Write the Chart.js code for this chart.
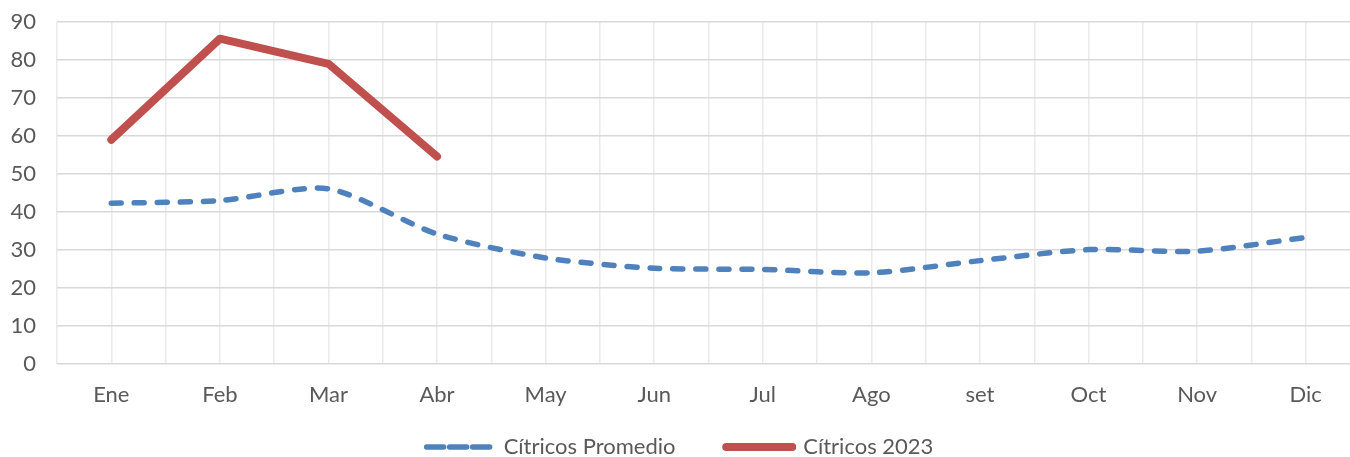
<!DOCTYPE html>
<html>
<head>
<meta charset="utf-8">
<script src="https://cdn.jsdelivr.net/npm/chart.js@4/dist/chart.umd.min.js"></script>
<style>
  html,body{margin:0;padding:0;background:#fff;overflow:hidden;}
  canvas{display:block;}
</style>
</head>
<body>
<canvas id="chart" width="1360" height="457"></canvas>
<script>
const months=['Ene','Feb','Mar','Abr','May','Jun','Jul','Ago','set','Oct','Nov','Dic'];
const promedio=[42.3,43.0,46.1,34.2,27.9,25.2,24.9,24.0,27.2,30.1,29.7,33.3];
const citricos2023=[59.0,85.6,79.0,54.6];
const yTicks=[0,10,20,30,40,50,60,70,80,90];

const C={blue:'#4F81BD',red:'#C0504D',text:'#595959',gridH:'#D9D9D9',gridV:'#EAEAEA'};
const FONT='Lato, "Noto Sans", sans-serif';

new Chart(document.getElementById('chart'),{
  type:'line',
  data:{datasets:[
    {label:'Cítricos Promedio',data:promedio.map((v,i)=>({x:i,y:v})),
     borderColor:C.blue,backgroundColor:C.blue,borderWidth:5.5,borderDash:[10,13],
     borderCapStyle:'round',tension:0.25,pointRadius:0,fill:false},
    {label:'Cítricos 2023',data:citricos2023.map((v,i)=>({x:i,y:v})),
     borderColor:C.red,backgroundColor:C.red,borderWidth:8,borderCapStyle:'round',
     borderJoinStyle:'round',tension:0,pointRadius:0,fill:false}
  ]},
  options:{
    responsive:false,animation:false,
    layout:{padding:{top:22,left:0,right:0,bottom:-11}},
    plugins:{
      tooltip:{enabled:false},
      legend:{position:'bottom',
        labels:{color:C.text,font:{family:FONT,size:22},boxWidth:66,boxHeight:0,padding:0,
          // trailing spaces only widen the gap between the two entries
          generateLabels:chart=>Chart.defaults.plugins.legend.labels.generateLabels(chart).map(l=>({...l,
            text:l.datasetIndex===0?l.text+'         ':l.text,
            lineWidth:l.datasetIndex===0?5.5:8,lineCap:'round'}))}}
    },
    scales:{
      x:{type:'linear',min:-0.5,max:11.5,
         afterBuildTicks:ax=>{ax.ticks=[];for(let v=-0.5;v<=11.5;v+=0.5)ax.ticks.push({value:v});},
         ticks:{color:C.text,font:{family:FONT,size:22},padding:18,maxRotation:0,autoSkip:false,
           callback:v=>Number.isInteger(v)?months[v]:''},
         grid:{color:C.gridV,lineWidth:1.5,drawTicks:false},border:{display:false},
         afterFit:ax=>{ax.height=72;ax.paddingLeft=0;ax.paddingRight=0;}},
      y:{min:0,max:90,
         afterBuildTicks:ax=>{ax.ticks=yTicks.map(v=>({value:v}));},
         ticks:{color:C.text,font:{family:FONT,size:22},padding:21},
         grid:{color:C.gridH,lineWidth:1.5,drawTicks:false},border:{display:false},
         afterFit:ax=>{ax.width=57;ax.paddingTop=0;ax.paddingBottom=0;}}
    }
  }
});
</script>
</body>
</html>
